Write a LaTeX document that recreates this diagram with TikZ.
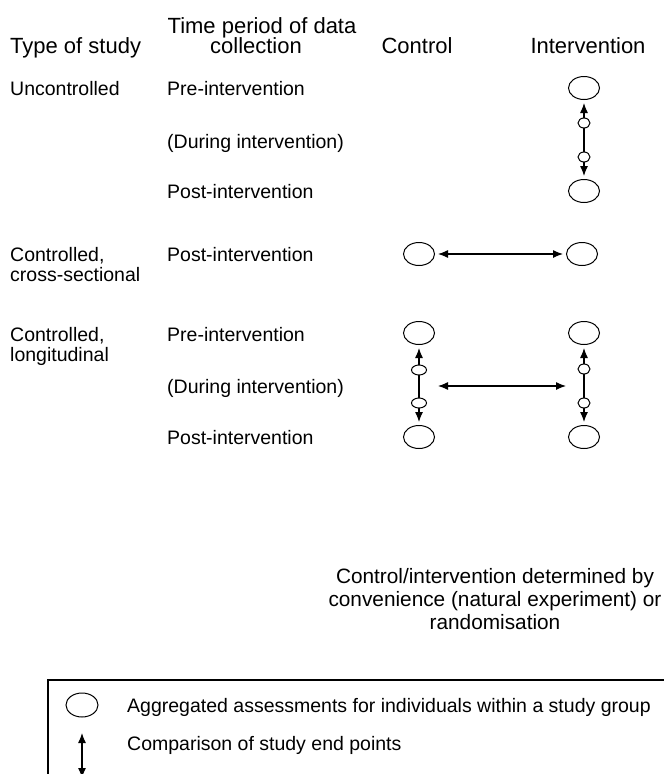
\documentclass[tikz,border=0pt]{standalone}
\usepackage{fontspec}
\setmainfont{Liberation Sans}
\usetikzlibrary{arrows.meta,shapes.geometric}
\begin{document}
\begin{tikzpicture}[x=1pt,y=-1pt,
  hdr/.style={font=\fontsize{22}{25}\selectfont, inner sep=0pt},
  txt/.style={font=\fontsize{19.5}{22}\selectfont, inner sep=0pt, anchor=base west},
  grp/.style={draw, line width=1pt, ellipse, minimum width=31pt, minimum height=23pt, inner sep=0pt},
  tiny/.style={draw, line width=1pt, ellipse, minimum width=12pt, minimum height=10pt, inner sep=0pt, fill=white},
  wtiny/.style={tiny, minimum width=15pt},
  legarrow/.style={line width=1.2pt, {Latex[length=10pt,width=8pt]}-{Latex[length=10pt,width=8pt]}},
  cmp/.style={legarrow, shorten <=3pt, shorten >=3pt}
]
\useasboundingbox (0,0) rectangle (664,774);
% headers
\node[hdr, anchor=base west] (h1) at (10,53) {Type of study};
\node[hdr, anchor=base] (h2) at (262,33) {Time period of data};
\node[hdr, anchor=base] (h2b) at (256,53) {collection};
\node[hdr, anchor=base] (h3) at (417,53) {Control};
\node[hdr, anchor=base] (h4) at (588,53) {Intervention};
% uncontrolled
\node[txt] (t1) at (10,95) {Uncontrolled};
\node[txt] (p1) at (167,95) {Pre-intervention};
\node[txt] (p2) at (167,148) {(During intervention)};
\node[txt] (p3) at (167,198) {Post-intervention};
\node[grp] (ui1) at (584,88) {};
\node[grp] (ui2) at (584,191) {};
\draw[cmp] (ui1) -- (ui2);
\node[tiny] at (584,123) {};
\node[tiny] at (584,157) {};
% cross-sectional
\node[txt] (t2) at (10,261) {Controlled,};
\node[txt] (t2b) at (10,281) {cross-sectional};
\node[txt] (p4) at (167,261) {Post-intervention};
\node[grp] (cc) at (419,254) {};
\node[grp] (ci) at (582,254) {};
\draw[cmp] (cc) -- (ci);
% longitudinal
\node[txt] (t3) at (10,341) {Controlled,};
\node[txt] (t3b) at (10,361) {longitudinal};
\node[txt] (p5) at (167,341) {Pre-intervention};
\node[txt] (p6) at (167,393) {(During intervention)};
\node[txt] (p7) at (167,444) {Post-intervention};
\node[grp] (lc1) at (419,333) {};
\node[grp] (lc2) at (419,437) {};
\node[grp] (li1) at (584,333) {};
\node[grp] (li2) at (584,437) {};
\draw[cmp] (lc1) -- (lc2);
\draw[cmp] (li1) -- (li2);
\node[wtiny] at (419,370) {};
\node[wtiny] at (419,403) {};
\node[tiny] at (584,369) {};
\node[tiny] at (584,403) {};
\coordinate (ha) at (438,386);
\coordinate (hb) at (566,386);
\draw[legarrow] (ha) -- (hb);
% note
\node[font=\fontsize{20.8}{23}\selectfont, align=center, anchor=north, inner sep=0pt] (note) at (495,568) {Control/intervention determined by\\convenience (natural experiment) or\\randomisation};
% legend
\draw[line width=1.2pt] (48,790) |- (680,680);
\node[grp, minimum width=32pt, minimum height=24pt] (lg) at (82,705) {};
\node[txt] (lt1) at (127,712) {Aggregated assessments for individuals within a study group};
\coordinate (la) at (82,733);
\coordinate (lb) at (82,778);
\draw[legarrow] (la) -- (lb);
\node[txt] (lt2) at (127,750) {Comparison of study end points};
\end{tikzpicture}
\end{document}
